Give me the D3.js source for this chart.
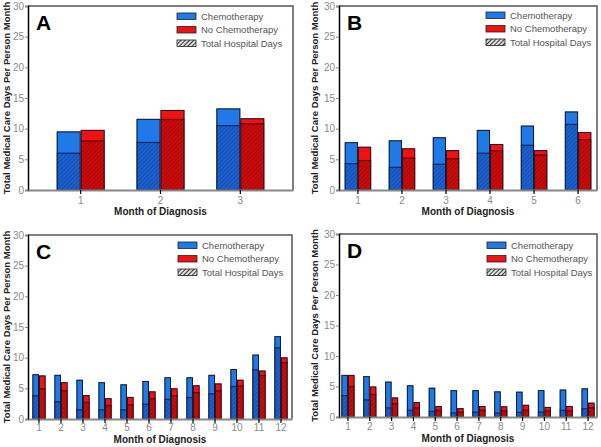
<!DOCTYPE html>
<html><head><meta charset="utf-8">
<script src="https://cdn.jsdelivr.net/npm/d3@7"></script>
<style>body{margin:0;background:#fff} svg{display:block}</style>
</head><body><svg id="c" width="601" height="447"></svg>
<script>
// ---- data ----
const monthsA = [1, 2, 3];
const chemoTotalA = [9.55, 11.6, 13.3];
const chemoHospA = [6.0, 7.75, 10.5];
const noChemoTotalA = [9.8, 13.05, 11.7];
const noChemoHospA = [8.0, 11.5, 10.8];

const monthsB = [1, 2, 3, 4, 5, 6];
const chemoTotalB = [7.8, 8.1, 8.6, 9.8, 10.5, 12.8];
const chemoHospB = [4.3, 3.7, 4.2, 6.0, 7.3, 10.7];
const noChemoTotalB = [7.05, 6.8, 6.5, 7.5, 6.5, 9.45];
const noChemoHospB = [4.8, 5.2, 5.1, 6.4, 5.7, 8.2];

const monthsC = [1, 2, 3, 4, 5, 6, 7, 8, 9, 10, 11, 12];
const chemoTotalC = [7.3, 7.2, 6.4, 6.0, 5.65, 6.2, 6.8, 6.8, 7.2, 8.15, 10.5, 13.5];
const chemoHospC = [3.8, 2.8, 1.5, 1.5, 1.5, 2.4, 3.2, 3.5, 4.1, 5.3, 8.0, 11.6];
const noChemoTotalC = [7.1, 6.0, 3.9, 3.4, 3.6, 4.5, 5.0, 5.5, 5.8, 6.4, 7.9, 10.05];
const noChemoHospC = [4.9, 4.6, 2.7, 2.2, 2.3, 3.3, 3.8, 4.3, 4.6, 5.4, 7.1, 9.2];

const monthsD = [1, 2, 3, 4, 5, 6, 7, 8, 9, 10, 11, 12];
const chemoTotalD = [6.9, 6.7, 5.8, 5.2, 4.8, 4.4, 4.4, 4.2, 4.15, 4.4, 4.5, 4.7];
const chemoHospD = [3.5, 2.8, 1.5, 1.1, 0.9, 0.65, 0.8, 0.65, 0.75, 0.8, 1.1, 1.35];
const noChemoTotalD = [6.9, 5.0, 3.2, 2.45, 1.8, 1.45, 1.8, 1.75, 2.0, 1.65, 1.8, 2.35];
const noChemoHospD = [5.0, 3.7, 2.2, 1.5, 1.1, 0.8, 1.1, 1.0, 1.1, 1.0, 1.0, 1.5];

const yTicks = [0, 5, 10, 15, 20, 25, 30];
const legendLabels = ["Chemotherapy", "No Chemotherapy", "Total Hospital Days"];
const panelLetters = ["A", "B", "C", "D"];
const xTitle = "Month of Diagnosis";
const yTitle = "Total Medical Care Days Per Person Month";

// ---- layout (not data) ----
const panels = [
  {letter: panelLetters[0], months: monthsA, ct: chemoTotalA, ch: chemoHospA, nt: noChemoTotalA, nh: noChemoHospA,
   left: 28, right: 293, top: 6, bottom: 190, po: 0.36, legX: 177, legY: 16, titleX: 6, tickPad: 2.5, titleDy: 25},
  {letter: panelLetters[1], months: monthsB, ct: chemoTotalB, ch: chemoHospB, nt: noChemoTotalB, nh: noChemoHospB,
   left: 339, right: 597, top: 6, bottom: 190, po: 0.13, legX: 486, legY: 15, titleX: 314, tickPad: 2.5, titleDy: 25},
  {letter: panelLetters[2], months: monthsC, ct: chemoTotalC, ch: chemoHospC, nt: noChemoTotalC, nh: noChemoHospC,
   left: 28, right: 292, top: 235, bottom: 419, po: 0.2, legX: 178, legY: 245, titleX: 6, tickPad: 0.5, titleDy: 24},
  {letter: panelLetters[3], months: monthsD, ct: chemoTotalD, ch: chemoHospD, nt: noChemoTotalD, nh: noChemoHospD,
   left: 339, right: 597, top: 234, bottom: 417, po: 0.11, legX: 487, legY: 245, titleX: 314, tickPad: 1.5, titleDy: 24.5}
];

const colors = {
  chemo: "#1f7ae8", chemoDark: "#1a5fcc",
  noChemo: "#f01212", noChemoDark: "#c80a0a",
  outline: "#1b1b2b"
};
const FONT = "Arial, 'Liberation Sans', sans-serif";

const svg = d3.select("#c");
const defs = svg.append("defs");
function hatch(id, bg, lineColor, op, size, w) {
  const p = defs.append("pattern").attr("id", id).attr("patternUnits", "userSpaceOnUse")
    .attr("width", size).attr("height", size).attr("patternTransform", "rotate(45)");
  p.append("rect").attr("width", size).attr("height", size).attr("fill", bg);
  p.append("line").attr("x1", 0).attr("y1", 0).attr("x2", 0).attr("y2", size)
    .attr("stroke", lineColor).attr("stroke-width", w).attr("stroke-opacity", op);
}
hatch("hb", colors.chemoDark, "#0a2a66", 0.45, 3, 1.2);
hatch("hr", colors.noChemoDark, "#5a0000", 0.4, 3, 1.2);
hatch("hl", "#e0e0e0", "#222", 1, 3, 1.8);

panels.forEach(p => {
  const g = svg.append("g");
  const y = d3.scaleLinear().domain([0, 30]).range([p.bottom, p.top]);
  const x = d3.scaleBand().domain(p.months).range([p.left, p.right])
    .paddingInner(0.4).paddingOuter(p.po);
  const bw = x.bandwidth() / 2;

  // frame top/right
  g.append("path")
    .attr("d", `M${p.left},${p.top}H${p.right}V${p.bottom}`)
    .attr("fill", "none").attr("stroke", "#555").attr("stroke-width", 1.5);

  const series = [
    {tot: p.ct, hosp: p.ch, light: colors.chemo, pat: "url(#hb)", off: 0},
    {tot: p.nt, hosp: p.nh, light: colors.noChemo, pat: "url(#hr)", off: 1}
  ];
  series.forEach(s => {
    const bars = g.append("g").selectAll("g").data(p.months).join("g");
    bars.append("rect")
      .attr("x", (m) => x(m) + s.off * bw)
      .attr("y", (m, i) => y(s.tot[i]))
      .attr("width", bw)
      .attr("height", (m, i) => y(0) - y(s.tot[i]))
      .attr("fill", s.light);
    bars.append("rect")
      .attr("x", (m) => x(m) + s.off * bw)
      .attr("y", (m, i) => y(s.hosp[i]))
      .attr("width", bw)
      .attr("height", (m, i) => y(0) - y(s.hosp[i]))
      .attr("fill", s.pat);
    bars.append("line")
      .attr("x1", (m) => x(m) + s.off * bw)
      .attr("x2", (m) => x(m) + s.off * bw + bw)
      .attr("y1", (m, i) => y(s.hosp[i]))
      .attr("y2", (m, i) => y(s.hosp[i]))
      .attr("stroke", s.off ? "#600" : "#0b2a60").attr("stroke-width", 1.2);
    bars.append("rect")
      .attr("x", (m) => x(m) + s.off * bw + 0.5)
      .attr("y", (m, i) => y(s.tot[i]) + 0.5)
      .attr("width", bw - 1)
      .attr("height", (m, i) => y(0) - y(s.tot[i]) - 0.5)
      .attr("fill", "none").attr("stroke", colors.outline).attr("stroke-width", 1);
  });

  // y axis
  const ya = g.append("g").attr("transform", `translate(${p.left},0)`)
    .call(d3.axisLeft(y).tickValues(yTicks).tickSize(3).tickPadding(1));
  ya.select(".domain").attr("stroke", "#000").attr("stroke-width", 1.5);
  ya.selectAll(".tick line").attr("stroke", "#888");
  ya.selectAll(".tick text").attr("fill", "#8a8a8a").style("font", `10px ${FONT}`);

  // x axis
  const xa = g.append("g").attr("transform", `translate(0,${p.bottom})`)
    .call(d3.axisBottom(x).tickSize(4).tickSizeOuter(0).tickPadding(p.tickPad));
  xa.select(".domain").attr("stroke", "#888").attr("stroke-width", 2);
  xa.selectAll(".tick line").attr("stroke", "#000").attr("stroke-width", 1.2);
  xa.selectAll(".tick text").attr("fill", "#8a8a8a").style("font", `10px ${FONT}`);

  // titles
  g.append("text").attr("x", (p.left + p.right) / 2).attr("y", p.bottom + p.titleDy)
    .attr("text-anchor", "middle").style("font", `bold 10px ${FONT}`).attr("fill", "#222")
    .text(xTitle);
  g.append("text")
    .attr("transform", `translate(${p.titleX + 3.5},${(p.top + p.bottom) / 2}) rotate(-90)`)
    .attr("text-anchor", "middle").style("font", `bold 9.5px ${FONT}`).attr("fill", "#222")
    .text(yTitle);

  // panel letter
  g.append("text").attr("x", p.left + 8).attr("y", p.top + 24)
    .style("font", `bold 21px ${FONT}`).attr("fill", "#000").text(p.letter);

  // legend
  const fills = [colors.chemo, colors.noChemo, "url(#hl)"];
  legendLabels.forEach((lab, i) => {
    const yy = p.legY + i * 13.5;
    g.append("rect").attr("x", p.legX).attr("y", yy - 3).attr("width", 19).attr("height", 6.5)
      .attr("fill", fills[i]).attr("stroke", "#222").attr("stroke-width", 0.8);
    g.append("text").attr("x", p.legX + 24).attr("y", yy + 3.5)
      .style("font", `9.5px ${FONT}`).attr("fill", "#555").text(lab);
  });
});
</script>
</body></html>
